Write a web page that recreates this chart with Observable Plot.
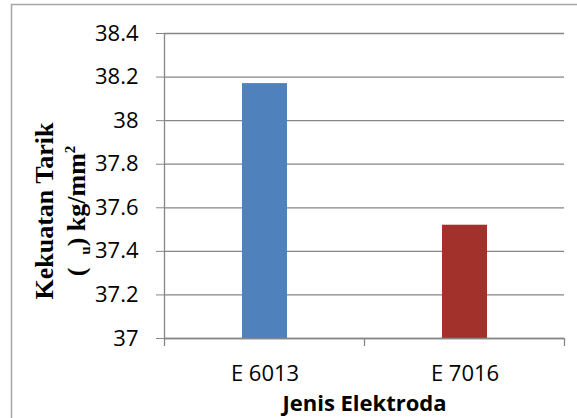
<!DOCTYPE html>
<html><head><meta charset="utf-8">
<script src="https://cdn.jsdelivr.net/npm/d3@7"></script>
<script src="https://cdn.jsdelivr.net/npm/@observablehq/plot@0.6"></script>
<style>body{margin:0;background:#fff} svg{display:block}</style>
</head><body><div id="chart"></div>
<script>
const categories = ["E 6013", "E 7016"];
const values = [38.17, 37.52];
const colors = ["#4f81bd", "#a2302b"];
const yTicks = [37, 37.2, 37.4, 37.6, 37.8, 38, 38.2, 38.4];
const yBase = 37;
const yTitleLine1 = "Kekuatan Tarik";
const xTitle = "Jenis Elektroda";

const data = categories.map((c, i) => ({cat: c, value: values[i], color: colors[i]}));
const gridColor = "#868686";

const plot = Plot.plot({
  width: 577, height: 418,
  marginLeft: 164, marginRight: 13, marginTop: 33, marginBottom: 80,
  style: {fontFamily: "'Open Sans', sans-serif", fontSize: "22px", background: "#fff", color: "#000"},
  x: {domain: categories, paddingInner: 0.775, paddingOuter: 0.3875, label: null},
  y: {domain: [yTicks[0], yTicks[yTicks.length - 1]], label: null},
  marks: [
    Plot.gridY(yTicks, {stroke: gridColor, strokeOpacity: 1, strokeWidth: 1.3}),
    Plot.barY(data, {x: "cat", y1: yBase, y2: "value", fill: "color"}),
    Plot.axisY(yTicks, {tickSize: 8, tickPadding: 18, tickFormat: d => String(+d.toFixed(1)), stroke: gridColor, strokeOpacity: 1, fontSize: 22}),
    Plot.axisX({tickSize: 0, tickPadding: 27, fontSize: 22}),
    Plot.ruleY([yBase], {stroke: gridColor, strokeWidth: 1.3})
  ]
});

const svg = d3.select(plot);
const xs = plot.scale("x");
const ys = plot.scale("y");
const yBottom = ys.apply(yBase);
const yTop = ys.apply(yTicks[yTicks.length - 1]);
const gap = (xs.step - xs.bandwidth) / 2;
const bounds = categories.map(c => xs.apply(c) - gap).concat([xs.apply(categories[categories.length - 1]) + xs.bandwidth + gap]);

// y axis line
svg.append("line").attr("x1", bounds[0]).attr("x2", bounds[0]).attr("y1", yTop).attr("y2", yBottom)
  .attr("stroke", gridColor).attr("stroke-width", 1.3);
// x ticks at band boundaries
bounds.forEach(b => svg.append("line").attr("x1", b).attr("x2", b).attr("y1", yBottom).attr("y2", yBottom + 8)
  .attr("stroke", gridColor).attr("stroke-width", 1.3));

// outer border (top and left visible)
svg.append("rect").attr("x", 11.5).attr("y", 4.5).attr("width", 700).attr("height", 600)
  .attr("fill", "none").attr("stroke", "#a6a6a6").attr("stroke-width", 1.5);

// x title
svg.append("text").attr("x", (bounds[0] + bounds[bounds.length - 1]) / 2).attr("y", 411)
  .attr("text-anchor", "middle").attr("font-family", "'Open Sans', sans-serif").attr("font-weight", "bold")
  .attr("font-size", 22).text(xTitle);

// y title (two lines, rotated)
const tcy = 211;
const t1 = svg.append("text").attr("transform", `translate(53,${tcy}) rotate(-90)`)
  .attr("text-anchor", "middle").attr("font-family", "'Liberation Serif', 'Times New Roman', serif")
  .attr("font-weight", "bold").attr("font-size", 26).text(yTitleLine1);
const t2 = svg.append("text").attr("transform", `translate(85,${tcy}) rotate(-90)`)
  .attr("text-anchor", "middle").attr("font-family", "'Liberation Serif', 'Times New Roman', serif")
  .attr("font-weight", "bold").attr("font-size", 26);
t2.append("tspan").text("(  ");
t2.append("tspan").attr("font-size", 15).attr("dy", 5).text("u");
t2.append("tspan").attr("dy", -5).text(") kg/mm");
t2.append("tspan").attr("font-size", 15).attr("dy", -10).text("2");

document.getElementById("chart").appendChild(plot);
</script>
</body></html>
